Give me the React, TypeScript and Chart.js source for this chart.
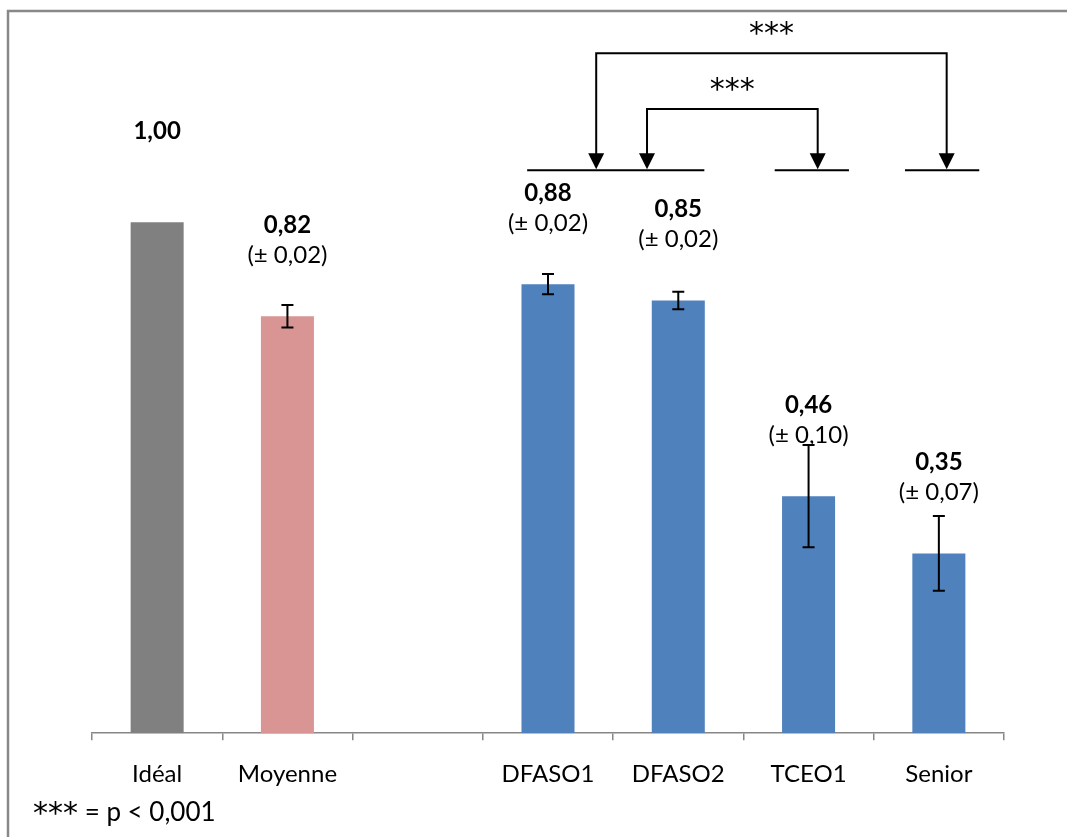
import React, { useEffect, useRef } from "react";
import { Chart, registerables } from "chart.js";

Chart.register(...registerables);

const categories = ["Idéal", "Moyenne", "", "DFASO1", "DFASO2", "TCEO1", "Senior"];
const means = [1.0, 0.816, null, 0.879, 0.847, 0.464, 0.352];
const errors = [0, 0.022, null, 0.02, 0.017, 0.1, 0.073];
const valueLabels = ["1,00", "0,82", "", "0,88", "0,85", "0,46", "0,35"];
const errorLabels = ["", "(± 0,02)", "", "(± 0,02)", "(± 0,02)", "(± 0,10)", "(± 0,07)"];
const barColors = ["#808080", "#d99594", "#4f81bd", "#4f81bd", "#4f81bd", "#4f81bd", "#4f81bd"];
const sigLabels = ["***", "***"];
const sigFrom = [3.37, 3.76];
const sigTo = [6.06, 5.07];
const sigLevel = [1.331, 1.222];
const groupFrom = [2.84, 4.74, 5.74];
const groupTo = [4.2, 5.31, 6.31];
const groupLevel = 1.102;
const footnoteStars = "***";
const footnoteText = " = p < 0,001";

const FONT = "Lato, 'Open Sans', sans-serif";
const STAR_FONT = "30px 'DejaVu Sans', sans-serif";

const overlay = {
  id: "overlay",
  beforeDraw(chart: any) {
    const ctx = chart.ctx;
    ctx.save();
    ctx.fillStyle = "#ffffff";
    ctx.fillRect(0, 0, chart.width, chart.height);
    ctx.strokeStyle = "#888888";
    ctx.lineWidth = 2.5;
    ctx.beginPath();
    ctx.moveTo(8, chart.height);
    ctx.lineTo(8, 11);
    ctx.lineTo(chart.width, 11);
    ctx.stroke();
    ctx.restore();
  },
  afterDatasetsDraw(chart: any) {
    const ctx = chart.ctx;
    const xs = chart.scales.x;
    const ys = chart.scales.y;
    const meta = chart.getDatasetMeta(0);
    ctx.save();
    // error bars
    ctx.strokeStyle = "#000";
    ctx.lineWidth = 2;
    for (let i = 0; i < categories.length; i++) {
      const m = means[i];
      const e = errors[i];
      if (m == null || !e) continue;
      const x = meta.data[i].x;
      const yt = ys.getPixelForValue(m + e);
      const yb = ys.getPixelForValue(m - e);
      ctx.beginPath();
      ctx.moveTo(x, yt);
      ctx.lineTo(x, yb);
      ctx.moveTo(x - 6, yt);
      ctx.lineTo(x + 6, yt);
      ctx.moveTo(x - 6, yb);
      ctx.lineTo(x + 6, yb);
      ctx.stroke();
    }
    // value labels
    ctx.fillStyle = "#000";
    ctx.textAlign = "center";
    ctx.textBaseline = "middle";
    for (let i = 0; i < categories.length; i++) {
      const m = means[i];
      if (m == null) continue;
      const x = meta.data[i].x;
      const top = meta.data[i].y;
      ctx.font = `bold 24px ${FONT}`;
      ctx.fillText(valueLabels[i], x, top - 91);
      if (errorLabels[i]) {
        ctx.font = `24px ${FONT}`;
        ctx.fillText(errorLabels[i], x, top - 61);
      }
    }
    // group lines
    const gy = ys.getPixelForValue(groupLevel);
    ctx.lineWidth = 2;
    for (let g = 0; g < groupFrom.length; g++) {
      ctx.beginPath();
      ctx.moveTo(xs.getPixelForValue(groupFrom[g]), gy);
      ctx.lineTo(xs.getPixelForValue(groupTo[g]), gy);
      ctx.stroke();
    }
    // significance brackets
    for (let s = 0; s < sigLabels.length; s++) {
      const x1 = xs.getPixelForValue(sigFrom[s]);
      const x2 = xs.getPixelForValue(sigTo[s]);
      const yl = ys.getPixelForValue(sigLevel[s]);
      const tip = gy - 1;
      const headH = 16;
      ctx.beginPath();
      ctx.moveTo(x1, tip - headH + 2);
      ctx.lineTo(x1, yl);
      ctx.lineTo(x2, yl);
      ctx.lineTo(x2, tip - headH + 2);
      ctx.stroke();
      for (const ax of [x1, x2]) {
        ctx.beginPath();
        ctx.moveTo(ax - 8, tip - headH);
        ctx.lineTo(ax + 8, tip - headH);
        ctx.lineTo(ax, tip);
        ctx.closePath();
        ctx.fill();
      }
      ctx.font = STAR_FONT;
      ctx.fillText(sigLabels[s], (x1 + x2) / 2, yl - 18);
    }
    // footnote
    ctx.textAlign = "left";
    ctx.font = STAR_FONT;
    ctx.fillText(footnoteStars, 33, 815);
    const w = ctx.measureText(footnoteStars).width;
    ctx.font = `26px ${FONT}`;
    ctx.fillText(footnoteText, 33 + w, 813);
    ctx.restore();
  },
};

export default function App() {
  const ref = useRef<HTMLCanvasElement>(null);
  useEffect(() => {
    if (!ref.current) return;
    const chart = new Chart(ref.current, {
      type: "bar",
      data: {
        labels: categories,
        datasets: [
          {
            data: means as any,
            backgroundColor: barColors,
            borderWidth: 0,
            categoryPercentage: 1,
            barPercentage: 0.407,
          },
        ],
      },
      options: {
        animation: false,
        responsive: false,
        devicePixelRatio: 1,
        layout: { padding: { left: 92, right: 63, top: 18, bottom: 28 } },
        plugins: { legend: { display: false }, tooltip: { enabled: false } },
        scales: {
          y: { display: false, min: 0, max: 1.4 },
          x: {
            grid: {
              drawOnChartArea: false,
              drawTicks: true,
              tickLength: 7,
              color: "#868686",
              lineWidth: 1.5,
              offset: true,
            },
            border: { color: "#868686", width: 1.5 },
            ticks: { color: "#000", font: { family: FONT, size: 24 }, padding: 20, maxRotation: 0, autoSkip: false },
          },
        },
      },
      plugins: [overlay],
    });
    return () => chart.destroy();
  }, []);
  return (
    <div style={{ position: "absolute", left: 0, top: 0 }}>
      <canvas ref={ref} width={1067} height={837} />
    </div>
  );
}
